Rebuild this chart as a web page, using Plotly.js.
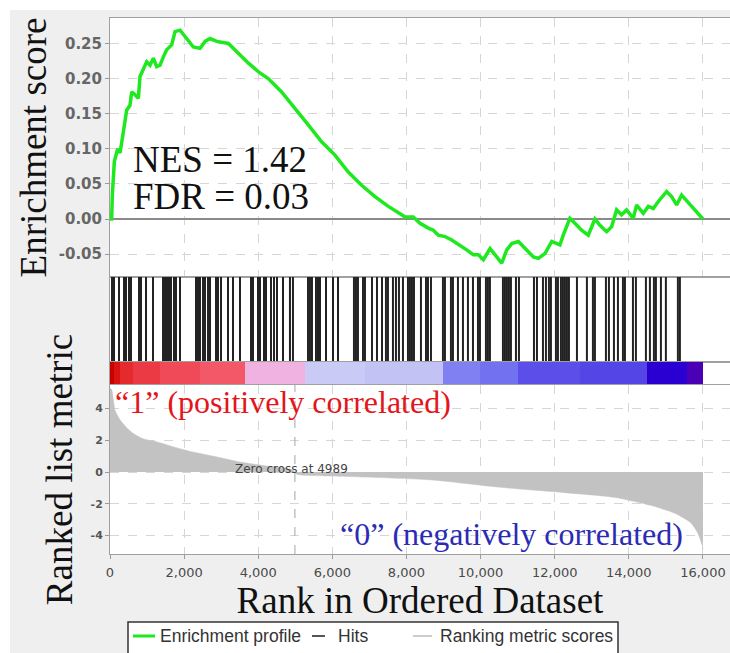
<!DOCTYPE html>
<html><head><meta charset="utf-8">
<script src="https://cdn.plot.ly/plotly-3.0.1.min.js"></script>
<style>html,body{margin:0;padding:0;background:#efefef}#chart{width:730px;height:653px}</style>
</head><body><div id="chart"></div>
<script>
// ---- data ----
const esRank = [0,45,63,117,207,270,360,450,540,585,675,765,810,900,990,1080,1170,1260,1350,1440,1530,1665,1755,1890,2025,2250,2430,2565,2700,2880,3195,3465,3735,4045,4270,4630,4990,5350,5710,6070,6430,6790,7150,7510,7870,7960,8185,8365,8590,8725,8860,9040,9220,9445,9625,9805,9940,10075,10255,10435,10570,10705,10840,11020,11200,11425,11560,11740,11920,12140,12230,12410,12545,12725,12905,13085,13220,13400,13535,13670,13805,13940,14120,14210,14390,14525,14660,14795,15020,15155,15290,15425,15695,16000];
const esScore = [0,0,0.034,0.082,0.10,0.094,0.124,0.155,0.162,0.181,0.177,0.172,0.203,0.215,0.224,0.219,0.229,0.217,0.219,0.231,0.241,0.248,0.267,0.269,0.26,0.245,0.243,0.253,0.257,0.253,0.25,0.236,0.222,0.208,0.2,0.181,0.158,0.134,0.11,0.091,0.067,0.048,0.032,0.018,0.006,0.003,0.003,-0.006,-0.013,-0.016,-0.023,-0.025,-0.03,-0.037,-0.044,-0.051,-0.051,-0.058,-0.042,-0.054,-0.063,-0.044,-0.035,-0.032,-0.042,-0.054,-0.056,-0.049,-0.032,-0.037,-0.023,0.001,-0.006,-0.016,-0.023,0,-0.009,-0.018,-0.011,0.013,0.006,0.013,0.001,0.02,0.008,0.018,0.015,0.025,0.039,0.032,0.02,0.034,0.018,0];

const hitRanks = [54,108,243,378,432,513,567,782,836,971,1160,1430,1484,1538,1592,1646,1727,1781,1889,2320,2374,2428,2509,2563,2644,2698,2860,2914,2995,3184,3319,3508,3805,3859,3993,4047,4155,4209,4344,4425,4506,4668,4856,4937,5342,5396,5450,5558,5612,5666,5828,6017,6152,6583,6637,6691,6826,6880,7069,7204,7339,7446,7500,7635,7716,7797,7905,8040,8094,8148,8202,8391,8526,8580,8661,8984,9038,9200,9254,9389,9524,9659,9794,9929,9983,10144,10198,10252,10603,10657,10711,10765,10819,10954,11035,11440,11521,11683,11763,11844,11898,12033,12087,12168,12222,12276,12330,12384,12600,12869,13031,13085,13382,13463,13598,13706,13841,13895,14111,14191,14461,14569,14677,14731,14866,15000,15324,15378];

const metricRank  = [0,45,135,270,450,620,890,1270,1700,2240,2890,3510,4240,4600,4940,4989,5050,6000,6880,8690,10470,12280,13630,14590,15240,15670,15860,15990,16000];
const metricScore = [5.3,5.2,3.9,3.3,2.8,2.45,2.1,1.9,1.6,1.26,0.95,0.63,0.38,0.28,0.12,0,-0.15,-0.25,-0.32,-0.5,-0.95,-1.3,-1.6,-2.1,-2.6,-3.2,-3.85,-4.7,-4.9];

const colorBinEdges = [0,108,270,620,1349,2428,3643,5262,6880,8985,9983,11008,12681,14488,15567,16000];
const colorBinLevel = [0,1,2,3,4,5,6,7,8,9,10,11,12,13,14];
const esTickVals  = [-0.05,0,0.05,0.10,0.15,0.20,0.25];
const esTickText  = ['-0.05','0.00','0.05','0.10','0.15','0.20','0.25'];
const metricTickVals = [-4,-2,0,2,4];
const metricTickText = ['-4','-2','0','2','4'];
const zeroCross = 4989;
const nesText = 'NES = 1.42';
const fdrText = 'FDR = 0.03';
const posLabel = '\u201c1\u201d (positively correlated)';
const negLabel = '\u201c0\u201d (negatively correlated)';
const legendLabels = ['Enrichment profile', 'Hits', 'Ranking metric scores'];

// ---- styles ----
const binColors = ['#c80000','#da1212','#e42a2c','#ec3a44','#f04a58','#f25868','#f0b2e0','#cacaf6','#c2c2f4','#8080f2','#7272f0','#5c4ee8','#5446e6','#2a00d2','#4a00b4'];
const colorscale = binColors.map((c,i)=>[i/(binColors.length-1), c]);
const serif = 'Liberation Serif, Times New Roman, serif';
const sans = 'Liberation Sans, Arial, sans-serif';
const dejavu = 'DejaVu Sans, sans-serif';
const L = 110, W = 620, B = 554, H = 536;
const px = v => (v - L) / W;
const py = v => (B - v) / H;
const xr = [0, 16730];

const traces = [
  {type:'scatter', mode:'lines', x: esRank, y: esScore, xaxis:'x2', yaxis:'y',
   line:{color:'#1ee81e', width:3.5}, name: legendLabels[0], hoverinfo:'x+y'},
  {type:'scatter', mode:'lines', xaxis:'x3', yaxis:'y2',
   x: hitRanks.flatMap(r => [r, r, null]), y: hitRanks.flatMap(() => [0, 1, null]),
   line:{color:'#222222', width:2}, name: legendLabels[1], hoverinfo:'x'},
  {type:'heatmap', xaxis:'x4', yaxis:'y3', x: colorBinEdges, y:[0,1], z:[colorBinLevel],
   colorscale: colorscale, zmin:0, zmax: binColors.length-1, showscale:false, hoverinfo:'skip'},
  {type:'scatter', mode:'lines', x: metricRank, y: metricScore, xaxis:'x', yaxis:'y4',
   fill:'tozeroy', fillcolor:'#c2c2c2', line:{color:'#c2c2c2', width:0.5, shape:'spline', smoothing:0.6},
   name: legendLabels[2], hoverinfo:'x+y'}
];

const grid = {showgrid:true, gridcolor:'#d6d6d6', griddash:'dash', gridwidth:1};
const frame = {showline:true, linecolor:'#a0a0a0', linewidth:1, mirror:true};

const layout = {
  width:730, height:653,
  margin:{l:L, r:0, t:18, b:99},
  paper_bgcolor:'#efefef', plot_bgcolor:'#ffffff',
  showlegend:false,
  xaxis: Object.assign({anchor:'y4', range:xr, dtick:2000, tick0:0, tickformat:',d',
    ticks:'outside', ticklen:4, tickcolor:'#999', tickfont:{family:dejavu, size:13, color:'#4a4a4a'},
    ticklabelstandoff:2, zeroline:false,
    title:{text:'Rank in Ordered Dataset', font:{family:serif, size:37, color:'#111'}, standoff:0}}, grid, frame),
  xaxis2: Object.assign({anchor:'y', range:xr, dtick:2000, tick0:0, showticklabels:false, ticks:'', zeroline:false}, grid, frame),
  xaxis3: Object.assign({anchor:'y2', range:xr, showgrid:false, showticklabels:false, ticks:'', zeroline:false}, frame),
  xaxis4: Object.assign({anchor:'y3', range:xr, showgrid:false, showticklabels:false, ticks:'', zeroline:false}, frame),
  yaxis: Object.assign({anchor:'x2', domain:[py(277), 1], range:[-0.0826, 0.2863],
    tickmode:'array', tickvals:esTickVals, ticktext:esTickText,
    ticks:'outside', ticklen:4, tickcolor:'#999', tickfont:{family:dejavu, size:15, color:'#666', weight:'bold'},
    zeroline:true, zerolinecolor:'#8a8a8a', zerolinewidth:1.5,
    title:{text:'Enrichment score', font:{family:serif, size:37, color:'#111'}, standoff:0}}, grid, frame),
  yaxis2: Object.assign({anchor:'x3', domain:[py(362), py(277)], range:[0,1], showgrid:false,
    showticklabels:false, ticks:'', zeroline:false}, frame),
  yaxis3: Object.assign({anchor:'x4', domain:[py(384), py(362)], range:[0,1], showgrid:false,
    showticklabels:false, ticks:'', zeroline:false}, frame),
  yaxis4: Object.assign({anchor:'x', domain:[0, py(385)], range:[-5.17, 5.49],
    tickmode:'array', tickvals:metricTickVals, ticktext:metricTickText,
    ticks:'outside', ticklen:4, tickcolor:'#999', tickfont:{family:dejavu, size:11, color:'#555', weight:'bold'},
    zeroline:false,
    title:{text:'Ranked list metric', font:{family:serif, size:37, color:'#111'}, standoff:6}}, grid, frame),
  shapes:[
    {type:'line', xref:'x', yref:'y4 domain', x0:zeroCross, x1:zeroCross, y0:0, y1:1,
     line:{color:'#b4b4b4', width:1.2, dash:'dash'}},
    {type:'rect', xref:'paper', yref:'paper', x0:px(0), x1:px(730), y0:py(10), y1:py(-2),
     fillcolor:'#ffffff', line:{width:0}, layer:'below'},
    {type:'rect', xref:'paper', yref:'paper', x0:px(-2), x1:px(10), y0:py(660), y1:py(-2),
     fillcolor:'#ffffff', line:{width:0}, layer:'below'},
    // legend box and samples
    {type:'rect', xref:'paper', yref:'paper', x0:px(128), x1:px(618), y0:py(665), y1:py(622),
     fillcolor:'#ffffff', line:{color:'#333333', width:1.5}},
    {type:'line', xref:'paper', yref:'paper', x0:px(133), x1:px(155), y0:py(636), y1:py(636),
     line:{color:'#1ee81e', width:3}},
    {type:'line', xref:'paper', yref:'paper', x0:px(312), x1:px(325), y0:py(636), y1:py(636),
     line:{color:'#555555', width:2}},
    {type:'line', xref:'paper', yref:'paper', x0:px(413), x1:px(432), y0:py(636), y1:py(636),
     line:{color:'#cccccc', width:2}}
  ],
  annotations:[
    {xref:'paper', yref:'paper', x:px(131), y:py(159), xanchor:'left', yanchor:'middle', showarrow:false,
     text:nesText, font:{family:serif, size:37, color:'#111'}},
    {xref:'paper', yref:'paper', x:px(131), y:py(196), xanchor:'left', yanchor:'middle', showarrow:false,
     text:fdrText, font:{family:serif, size:37, color:'#111'}},
    {xref:'paper', yref:'paper', x:px(113), y:py(402), xanchor:'left', yanchor:'middle', showarrow:false,
     text:posLabel, font:{family:serif, size:32, color:'#e3161c'}},
    {xref:'paper', yref:'paper', x:px(685), y:py(534), xanchor:'right', yanchor:'middle', showarrow:false,
     text:negLabel, font:{family:serif, size:32, color:'#2b2bb5'}},
    {xref:'paper', yref:'paper', x:px(233), y:py(469), xanchor:'left', yanchor:'middle', showarrow:false,
     text:'Zero cross at ' + zeroCross, font:{family:dejavu, size:12, color:'#444'}},
    {xref:'paper', yref:'paper', x:px(158), y:py(636), xanchor:'left', yanchor:'middle', showarrow:false,
     text:legendLabels[0], font:{family:sans, size:17.5, color:'#333'}},
    {xref:'paper', yref:'paper', x:px(336), y:py(636), xanchor:'left', yanchor:'middle', showarrow:false,
     text:legendLabels[1], font:{family:sans, size:17.5, color:'#333'}},
    {xref:'paper', yref:'paper', x:px(438), y:py(636), xanchor:'left', yanchor:'middle', showarrow:false,
     text:legendLabels[2], font:{family:sans, size:17.5, color:'#333'}}
  ]
};

Plotly.newPlot('chart', traces, layout, {displayModeBar:false, staticPlot:true});
</script></body></html>
